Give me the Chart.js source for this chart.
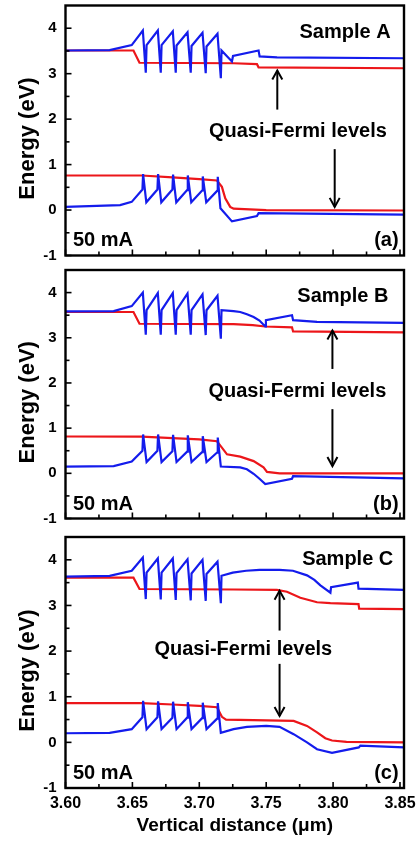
<!DOCTYPE html>
<html><head><meta charset="utf-8">
<script src="https://cdn.jsdelivr.net/npm/chart.js@4"></script>
<style>
html,body{margin:0;padding:0;background:#fff;}
body{width:420px;height:842px;position:relative;overflow:hidden;}
canvas{position:absolute;left:0;display:block;}
</style></head><body>
<canvas id="ca" width="420" height="262" style="top:0px"></canvas>
<canvas id="cb" width="420" height="262" style="top:264px"></canvas>
<canvas id="cc" width="420" height="314" style="top:528px"></canvas>
<script>
// ---------- data ----------
const xTicks = [3.60, 3.65, 3.70, 3.75, 3.80, 3.85];
const xTickLabels = ['3.60', '3.65', '3.70', '3.75', '3.80', '3.85'];
const xMinorTicks = [3.625, 3.675, 3.725, 3.775, 3.825];
const yTicks = [-1, 0, 1, 2, 3, 4];
const yTickLabels = ['-1', '0', '1', '2', '3', '4'];
const yMinorTicks = [-0.5, 0.5, 1.5, 2.5, 3.5];
const sampleNames = ['Sample A', 'Sample B', 'Sample C'];
const panelTags = ['(a)', '(b)', '(c)'];
const currentLabel = '50 mA';
const fermiLabel = 'Quasi-Fermi levels';
const xTitle = 'Vertical distance (\u03bcm)';
const yTitle = 'Energy (eV)';

// Sample A
const sampleA_Ec = [[3.600,3.51],[3.633,3.52],[3.6495,3.63],[3.6578,3.95],[3.6600,3.02],[3.6606,3.63],[3.6690,3.95],[3.6712,3.02],[3.6718,3.63],[3.6802,3.93],[3.6824,3.02],[3.6830,3.62],[3.6912,3.91],[3.6936,3.02],[3.6942,3.61],[3.7024,3.90],[3.7048,3.01],[3.7054,3.60],[3.7136,3.88],[3.7161,2.90],[3.7166,3.51],[3.7244,3.27],[3.7252,3.39],[3.7443,3.51],[3.7451,3.38],[3.7581,3.36],[3.853,3.34]];
const sampleA_Ev = [[3.600,0.07],[3.6408,0.11],[3.6495,0.18],[3.6575,0.45],[3.6580,0.79],[3.6604,0.17],[3.6687,0.45],[3.6692,0.79],[3.6716,0.17],[3.6799,0.45],[3.6804,0.78],[3.6828,0.17],[3.6909,0.44],[3.6914,0.76],[3.6940,0.17],[3.7021,0.43],[3.7026,0.74],[3.7052,0.17],[3.7133,0.42],[3.7138,0.73],[3.7158,0.04],[3.7244,-0.25],[3.7431,-0.13],[3.7443,-0.07],[3.853,-0.10]];
const sampleA_Efn = [[3.600,3.51],[3.6508,3.51],[3.6553,3.24],[3.7256,3.23],[3.7431,3.21],[3.7443,3.14],[3.853,3.12]];
const sampleA_Efp = [[3.600,0.76],[3.657,0.76],[3.680,0.72],[3.700,0.68],[3.7132,0.65],[3.7169,0.51],[3.7194,0.26],[3.7231,0.07],[3.7256,0.03],[3.750,0.0],[3.853,-0.01]];

// Sample B
const sampleB_Ec = [[3.600,3.585],[3.636,3.59],[3.6495,3.70],[3.6578,4.00],[3.6600,3.07],[3.6606,3.61],[3.6690,3.99],[3.6712,3.07],[3.6718,3.61],[3.6802,3.99],[3.6824,3.07],[3.6830,3.61],[3.6912,3.98],[3.6936,3.07],[3.6942,3.61],[3.7024,3.96],[3.7048,3.06],[3.7054,3.61],[3.7136,3.93],[3.7161,2.98],[3.7166,3.61],[3.7256,3.59],[3.7306,3.57],[3.7356,3.52],[3.7406,3.46],[3.7450,3.38],[3.7493,3.25],[3.7498,3.39],[3.7693,3.50],[3.7701,3.39],[3.788,3.35],[3.853,3.33]];
const sampleB_Ev = [[3.600,0.15],[3.636,0.16],[3.6495,0.26],[3.6575,0.50],[3.6580,0.86],[3.6606,0.25],[3.6687,0.50],[3.6692,0.86],[3.6718,0.25],[3.6799,0.49],[3.6804,0.85],[3.6830,0.25],[3.6909,0.48],[3.6914,0.84],[3.6942,0.25],[3.7021,0.47],[3.7026,0.82],[3.7054,0.25],[3.7133,0.46],[3.7138,0.79],[3.7161,0.15],[3.7306,0.13],[3.7356,0.09],[3.7406,-0.01],[3.7450,-0.12],[3.7493,-0.24],[3.7693,-0.12],[3.7701,-0.06],[3.853,-0.11]];
const sampleB_Efn = [[3.600,3.57],[3.6508,3.57],[3.6553,3.31],[3.7256,3.30],[3.740,3.28],[3.7493,3.25],[3.7693,3.23],[3.7701,3.14],[3.853,3.12]];
const sampleB_Efp = [[3.600,0.815],[3.657,0.81],[3.680,0.78],[3.700,0.75],[3.7132,0.71],[3.7169,0.57],[3.7207,0.42],[3.7306,0.37],[3.7406,0.27],[3.748,0.13],[3.7506,0.03],[3.760,0.0],[3.853,0.0]];

// Sample C
const sampleC_Ec = [[3.600,3.63],[3.633,3.65],[3.6495,3.76],[3.6578,4.05],[3.6600,3.14],[3.6606,3.72],[3.6690,4.03],[3.6712,3.13],[3.6718,3.72],[3.6802,4.03],[3.6824,3.12],[3.6830,3.71],[3.6912,4.01],[3.6936,3.11],[3.6942,3.70],[3.7024,4.00],[3.7048,3.10],[3.7054,3.69],[3.7136,3.96],[3.7161,3.05],[3.7166,3.65],[3.725,3.72],[3.735,3.76],[3.745,3.78],[3.760,3.78],[3.770,3.76],[3.7805,3.66],[3.786,3.56],[3.7905,3.44],[3.798,3.28],[3.7985,3.40],[3.8185,3.50],[3.819,3.37],[3.853,3.34]];
const sampleC_Ev = [[3.600,0.20],[3.633,0.21],[3.6495,0.29],[3.6575,0.55],[3.6580,0.91],[3.6606,0.29],[3.6687,0.55],[3.6692,0.90],[3.6718,0.29],[3.6799,0.54],[3.6804,0.89],[3.6830,0.29],[3.6909,0.54],[3.6914,0.88],[3.6942,0.29],[3.7021,0.53],[3.7026,0.87],[3.7054,0.29],[3.7133,0.52],[3.7138,0.86],[3.7161,0.21],[3.7256,0.29],[3.7356,0.34],[3.750,0.36],[3.760,0.34],[3.7705,0.18],[3.7805,0.0],[3.788,-0.15],[3.7992,-0.23],[3.8192,-0.11],[3.8204,-0.07],[3.853,-0.11]];
const sampleC_Efn = [[3.600,3.61],[3.6508,3.61],[3.6553,3.36],[3.7256,3.35],[3.758,3.34],[3.7655,3.30],[3.7755,3.17],[3.788,3.07],[3.798,3.05],[3.819,3.03],[3.8195,2.93],[3.853,2.92]];
const sampleC_Efp = [[3.600,0.86],[3.657,0.86],[3.680,0.83],[3.700,0.80],[3.7132,0.77],[3.7169,0.56],[3.720,0.50],[3.7705,0.47],[3.7805,0.36],[3.788,0.22],[3.7942,0.09],[3.7992,0.04],[3.810,0.01],[3.853,0.0]];

// ---------- drawing ----------
const FONT = '"Liberation Sans", Arial, Helvetica, sans-serif';
const RED = 'rgb(236,22,26)';
const BLUE = 'rgb(20,28,236)';

function arrow(ctx, px, y0, y1) {
  ctx.beginPath(); ctx.moveTo(px, y0); ctx.lineTo(px, y1); ctx.stroke();
  const d = y1 < y0 ? 1 : -1;
  ctx.beginPath();
  ctx.moveTo(px - 5, y1 + d * 9); ctx.lineTo(px, y1); ctx.lineTo(px + 5, y1 + d * 9);
  ctx.stroke();
}

const deco = {
  id: 'deco',
  afterDatasetsDraw(chart, args, o) {
    const {ctx, chartArea: a, scales: {x, y}} = chart;
    ctx.save();
    ctx.strokeStyle = '#000'; ctx.fillStyle = '#000';
    ctx.lineWidth = 1.6;
    const tk = (px, py, dx, dy) => { ctx.beginPath(); ctx.moveTo(px, py); ctx.lineTo(px + dx, py + dy); ctx.stroke(); };
    xTicks.forEach(v => tk(x.getPixelForValue(v), a.bottom, 0, -6));
    xMinorTicks.forEach(v => tk(x.getPixelForValue(v), a.bottom, 0, -4));
    yTicks.forEach(v => tk(a.left, y.getPixelForValue(v), 6, 0));
    yMinorTicks.forEach(v => tk(a.left, y.getPixelForValue(v), 4, 0));
    ctx.lineWidth = 2.4;
    ctx.strokeRect(a.left, a.top, a.right - a.left, a.bottom - a.top);
    // arrows
    ctx.lineWidth = 2;
    [o.up, o.down].forEach(ar => arrow(ctx, x.getPixelForValue(ar[0]), y.getPixelForValue(ar[1]), y.getPixelForValue(ar[2])));
    // texts
    ctx.font = 'bold 20px ' + FONT;
    ctx.textBaseline = 'middle';
    ctx.textAlign = 'right';
    ctx.fillText(o.sample, x.getPixelForValue(o.samplePos[0]), y.getPixelForValue(o.samplePos[1]));
    ctx.fillText(o.tag, x.getPixelForValue(o.tagPos[0]), y.getPixelForValue(o.tagPos[1]));
    ctx.textAlign = 'left';
    ctx.fillText(currentLabel, x.getPixelForValue(o.curPos[0]), y.getPixelForValue(o.curPos[1]));
    ctx.textAlign = 'center';
    ctx.fillText(fermiLabel, x.getPixelForValue(o.qfPos[0]), y.getPixelForValue(o.qfPos[1]));
    // y title
    ctx.font = 'bold 22px ' + FONT;
    ctx.translate(28, (a.top + a.bottom) / 2 + 8);
    ctx.rotate(-Math.PI / 2);
    ctx.fillText(yTitle, 0, 0);
    ctx.restore();
  }
};

const panels = [
  {id: 'ca', ec: sampleA_Ec, ev: sampleA_Ev, efn: sampleA_Efn, efp: sampleA_Efp, idx: 0, showX: false,
   pad: {top: 5.5, bottom: 6.5, left: 0, right: 16}, xH: 0,
   up: [3.7583, 2.21, 3.07], down: [3.8012, 1.34, 0.07],
   samplePos: [3.843, 3.91], qfPos: [3.7737, 1.72], curPos: [3.6056, -0.66], tagPos: [3.849, -0.66]},
  {id: 'cb', ec: sampleB_Ec, ev: sampleB_Ev, efn: sampleB_Efn, efp: sampleB_Efp, idx: 1, showX: false,
   pad: {top: 6, bottom: 7.5, left: 0, right: 16}, xH: 0,
   up: [3.7995, 2.31, 3.16], down: [3.7995, 1.42, 0.16],
   samplePos: [3.8414, 3.91], qfPos: [3.7733, 1.81], curPos: [3.6056, -0.69], tagPos: [3.849, -0.69]},
  {id: 'cc', ec: sampleC_Ec, ev: sampleC_Ev, efn: sampleC_Efn, efp: sampleC_Efp, idx: 2, showX: true,
   pad: {top: 9, bottom: 0, left: 0, right: 16}, xH: 54,
   up: [3.760, 2.45, 3.32], down: [3.760, 1.72, 0.58],
   samplePos: [3.845, 4.01], qfPos: [3.7329, 2.04], curPos: [3.6056, -0.69], tagPos: [3.849, -0.69]}
];

panels.forEach(p => {
  const ds = (data, color) => ({data, borderColor: color, borderWidth: 2.2, pointRadius: 0, tension: 0, fill: false});
  new Chart(document.getElementById(p.id), {
    type: 'line',
    data: {datasets: [ds(p.ec, BLUE), ds(p.ev, BLUE), ds(p.efn, RED), ds(p.efp, RED)]},
    options: {
      responsive: false, animation: false, events: [],
      layout: {padding: p.pad},
      plugins: {legend: {display: false}, tooltip: {enabled: false},
        deco: {up: p.up, down: p.down, sample: sampleNames[p.idx], tag: panelTags[p.idx],
               samplePos: p.samplePos, qfPos: p.qfPos, curPos: p.curPos, tagPos: p.tagPos}},
      scales: {
        x: {type: 'linear', min: 3.60, max: 3.853,
            afterBuildTicks: s => { s.ticks = xTicks.map(v => ({value: v})); },
            afterFit: s => { s.height = p.xH; s.paddingLeft = 0; s.paddingRight = 0; s.paddingTop = 0; s.paddingBottom = 0; },
            grid: {display: false, drawTicks: false}, border: {display: false},
            ticks: {display: p.showX, padding: 6, color: '#000', maxRotation: 0, autoSkip: false,
                    font: {family: FONT, size: 16, weight: 'bold'},
                    callback: (v, i) => xTickLabels[i]},
            title: {display: p.showX, text: xTitle, color: '#000', padding: {top: 0, bottom: 5},
                    font: {family: FONT, size: 19, weight: 'bold'}}},
        y: {type: 'linear', min: -1, max: 4.5,
            afterBuildTicks: s => { s.ticks = yTicks.map(v => ({value: v})); },
            afterFit: s => { s.width = 65.5; s.paddingTop = 0; s.paddingBottom = 0; s.paddingLeft = 0; s.paddingRight = 0; },
            grid: {display: false, drawTicks: false}, border: {display: false},
            ticks: {padding: 9, color: '#000', autoSkip: false,
                    font: {family: FONT, size: 15, weight: 'bold'},
                    callback: (v, i) => yTickLabels[i]}}
      }
    },
    plugins: [deco]
  });
});
</script>
</body></html>
